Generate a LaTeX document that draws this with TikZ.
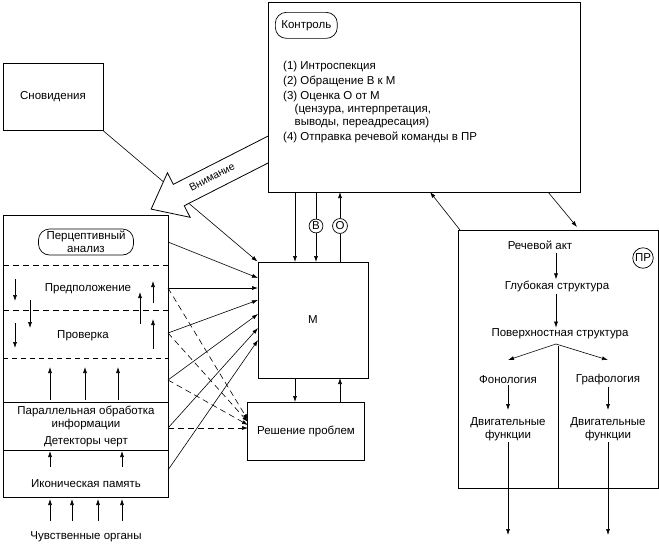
\documentclass[tikz,border=0pt]{standalone}
\usepackage{fontspec}
\setmainfont{Liberation Sans}
\usetikzlibrary{arrows.meta}
\begin{document}
\begin{tikzpicture}[x=1pt,y=-1pt,font=\fontsize{11.5}{13}\selectfont,
  box/.style={draw,line width=0.9pt,fill=white},
  arr/.style={-{Latex[length=6pt,width=4pt]},line width=0.6pt},
  darr/.style={arr,dash pattern=on 6pt off 4pt},
  pill/.style={draw,rounded corners=11pt,line width=0.7pt,align=center,inner xsep=6pt,inner ysep=2pt,minimum height=26pt},
  circ/.style={draw,circle,inner sep=1pt,line width=0.7pt},
  lbl/.style={align=center,inner sep=1pt}]
\useasboundingbox (0,0) rectangle (659,547);
% Dreams
\node[box,minimum width=100,minimum height=67] (dream) at (53,97) {Сновидения};
% M and problem solving
\node[box,minimum width=110,minimum height=116] (M) at (313,320) {М};
\node[box,minimum width=117,minimum height=58] (rp) at (306,431) {Решение проблем};
\draw[arr] (dream.south east) -- (M.north west);
% Attention arrow
\begin{scope}[shift={(275,146)},rotate=207]
\draw[line width=0.8pt,fill=white] (0,-12)--(108,-12)--(108,-25)--(139,0)--(108,25)--(108,12)--(0,12)--cycle;
\end{scope}
\node[rotate=27,lbl,font=\fontsize{10.5}{12}\selectfont] (att) at (212,177) {Внимание};
% Control
\node[box,minimum width=312,minimum height=190] (ctl) at (424,97) {};
\node[pill,anchor=north west] (kp) at (275,12) {Контроль};
\node[lbl,anchor=north west,align=left] (list) at (282,60) {(1) Интроспекция\\[2pt](2) Обращение В к М\\[2pt](3) Оценка О от М\\ \quad(цензура, интерпретация,\\ \quad выводы, переадресация)\\[2pt](4) Отправка речевой команды в ПР};
% Control <-> M
\coordinate (c1) at (295,192); \coordinate (m1) at (295,262);
\draw[arr] (c1) -- (m1);
\node[circ] (B) at (316,226) {В};
\draw[arr] (316,192) -- (B) -- (316,262);
\node[circ] (O) at (340,226) {О};
\draw[arr] (340,262) -- (O) -- (340,192);
\draw[arr] (295,378) -- (295,402);
\draw[arr] (340,402) -- (340,378);
% PR box
\node[box,minimum width=200,minimum height=258] (pr) at (558,359) {};
\draw[arr] (460,230) -- (430,192);
\draw[arr] (548,192) -- (577,227);
\node[lbl] (ra) at (540,245) {Речевой акт};
\node[circ] (prc) at (643,258) {ПР};
\node[lbl] (gs) at (557,286) {Глубокая структура};
\node[lbl] (ps) at (560,334) {Поверхностная структура};
\node[lbl] (fon) at (508,380) {Фонология};
\node[lbl] (gra) at (608,380) {Графология};
\node[lbl] (df1) at (508,429) {Двигательные\\функции};
\node[lbl] (df2) at (608,429) {Двигательные\\функции};
\draw[arr] (556,253) -- (gs.north -| 556,0);
\draw[arr] (556,294) -- (ps.north -| 556,0);
\draw[arr] (556,344) -- (508,360);
\draw[arr] (556,344) -- (608,360);
\draw[line width=0.9pt] (558,346) -- (558,488);
\draw[arr] (fon) -- (508,410);
\draw[arr] (gra) -- (608,410);
\coordinate (o1) at (508,535); \coordinate (o2) at (608,535);
\draw[arr] (df1) -- (o1);
\draw[arr] (df2) -- (o2);
% Left big box
\node[box,minimum width=165,minimum height=282] (L) at (85.5,356) {};
\node[pill,minimum width=95] (pa) at (86,242) {Перцептивный\\анализ};
\draw[dash pattern=on 6pt off 4pt,line width=0.6pt] (3,265) -- (168,265);
\draw[dash pattern=on 6pt off 4pt,line width=1pt] (3,310) -- (168,310);
\draw[dash pattern=on 5pt off 4pt,line width=0.5pt] (3,358) -- (168,358);
\draw[line width=0.9pt] (3,402) -- (168,402);
\draw[line width=0.9pt] (3,450) -- (168,450);
\node[lbl] (pred) at (88,289) {Предположение};
\node[lbl] (prov) at (83,336) {Проверка};
\node[lbl] (par) at (86,418) {Параллельная обработка\\информации};
\node[lbl] (det) at (86,442) {Детекторы черт};
\node[lbl] (ik) at (86,484) {Иконическая память};
\node[lbl] (cho) at (86,537) {Чувственные органы};
\foreach \x/\a/\b in {15/279/301,30/300/328,15/323/348} \draw[arr] (\x,\a) -- (\x,\b);
\foreach \x/\a/\b in {153/303/281,140/324/292,153/349/319,50/400/367,85/400/367,118/400/367,50/467/451,122/467/451,50/521/499,72/521/499,98/521/499,122/521/499} \draw[arr] (\x,\a) -- (\x,\b);
% left -> M
\foreach \s/\t in {242/278,288/288,333/300,380/314,428/328,470/340} \draw[arr] (168,\s) -- (258,\t);
\foreach \s/\t in {288/420,333/422,380/425,428/428} \draw[darr] (168,\s) -- (248,\t);
\end{tikzpicture}
\end{document}
